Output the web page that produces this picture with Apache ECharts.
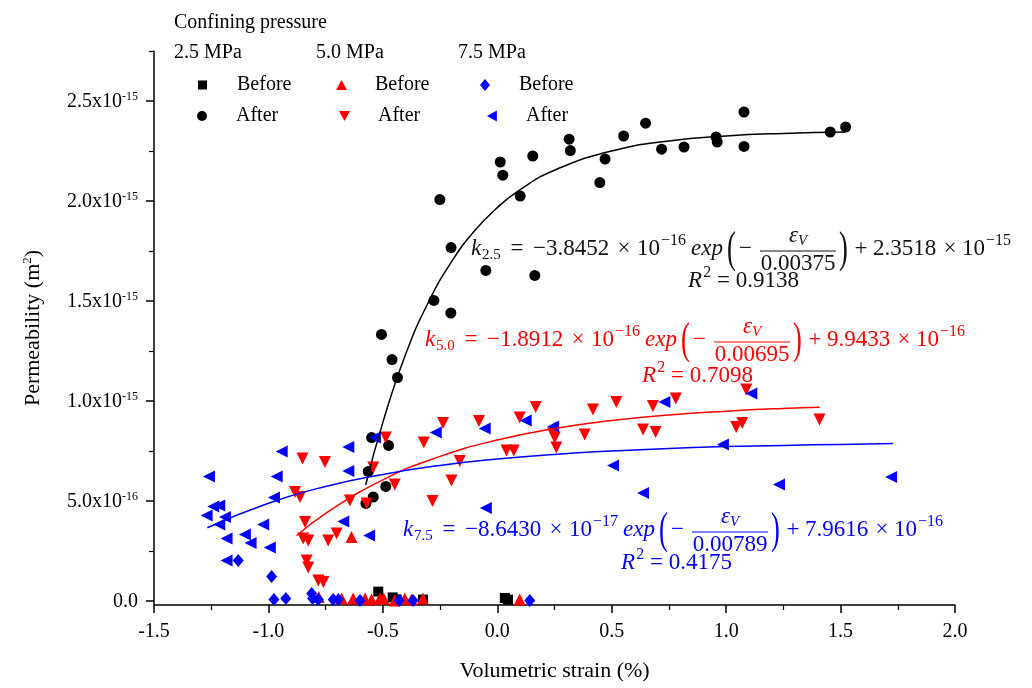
<!DOCTYPE html>
<html><head><meta charset="utf-8">
<script src="https://cdn.jsdelivr.net/npm/echarts@6/dist/echarts.min.js"></script>
<style>html,body{margin:0;padding:0;background:#fff}#c{width:1032px;height:688px}</style>
</head><body><div id="c"></div>
<script>
// ---------- data (x: volumetric strain %, y: permeability in 1e-15 m^2) ----------
const xTickValues = [-1.5, -1.0, -0.5, 0.0, 0.5, 1.0, 1.5, 2.0];
const yTickValues = [0, 0.5, 1.0, 1.5, 2.0, 2.5];
const yTickLabels = ['0.0', '5.0x10|-16', '1.0x10|-15', '1.5x10|-15', '2.0x10|-15', '2.5x10|-15'];
const yMinorTickValues = [0.25, 0.75, 1.25, 1.75, 2.25, 2.75];

const pressures = ['2.5 MPa', '5.0 MPa', '7.5 MPa'];

const before25 = [[-0.52,0.047],[-0.457,0.018],[-0.44,0.008],[-0.325,0.007],[0.033,0.015],[0.047,0.007]];
const after25 = [
 [-0.574,0.488],[-0.542,0.52],[-0.487,0.573],[-0.564,0.648],[-0.475,0.778],[-0.549,0.817],
 [-0.436,1.117],[-0.46,1.207],[-0.506,1.333],[-0.203,1.44],[-0.277,1.503],[-0.05,1.653],
 [0.164,1.628],[-0.202,1.767],[-0.251,2.007],[0.1,2.025],[0.024,2.129],[0.013,2.195],
 [0.155,2.225],[0.314,2.309],[0.319,2.252],[0.448,2.092],[0.471,2.21],[0.552,2.325],
 [0.648,2.389],[0.718,2.259],[0.816,2.27],[0.956,2.32],[0.961,2.295],[1.078,2.445],
 [1.078,2.273],[1.455,2.345],[1.522,2.37]];
const before50 = [[-0.78,0.02],[-0.68,0.012],[-0.63,0.012],[-0.578,0.012],[-0.549,0.007],[-0.513,0.012],
 [-0.496,0.012],[-0.448,0.003],[-0.404,0.012],[-0.375,0.007],[-0.325,0.012],[0.098,0.007],[-0.637,0.32]];
const after50 = [
 [-0.851,0.712],[-0.753,0.695],[-0.884,0.545],[-0.862,0.52],[-0.84,0.395],[-0.848,0.312],
 [-0.826,0.303],[-0.833,0.203],[-0.826,0.167],[-0.782,0.103],[-0.76,0.095],[-0.739,0.303],
 [-0.702,0.337],[-0.644,0.503],[-0.571,0.487],[-0.542,0.667],[-0.487,0.817],[-0.448,0.583],
 [-0.321,0.792],[-0.283,0.5],[-0.237,0.89],[-0.08,0.9],[-0.164,0.7],[-0.2,0.603],
 [0.098,0.917],[0.168,0.97],[0.04,0.753],[0.072,0.753],[0.244,0.837],[0.251,0.817],
 [0.258,0.767],[0.382,0.833],[0.418,0.957],[0.52,0.995],[0.637,0.857],[0.692,0.845],
 [0.68,0.975],[0.78,1.012],[1.088,1.057],[1.044,0.87],[1.07,0.89],[1.408,0.907]];
const before75 = [[-1.132,0.203],[-0.986,0.123],[-0.976,0.007],[-0.924,0.012],[-0.811,0.037],[-0.807,0.012],
 [-0.782,0.007],[-0.717,0.007],[-0.695,0.007],[-0.6,0.003],[-0.429,0.003],[-0.368,0.003],[0.142,0.003]];
const after75 = [
 [-1.26,0.623],[-0.942,0.748],[-0.964,0.623],[-0.651,0.77],[-0.651,0.65],[-0.535,0.817],
 [-0.269,0.842],[-0.976,0.517],[-1.27,0.428],[-1.241,0.473],[-1.215,0.478],[-1.19,0.42],
 [-1.215,0.383],[-1.023,0.383],[-1.183,0.312],[-1.103,0.333],[-1.078,0.29],[-0.994,0.267],
 [-0.673,0.398],[-0.56,0.328],[-1.183,0.203],[-0.055,0.862],[0.124,0.903],[0.244,0.873],
 [0.73,0.995],[1.11,1.037],[0.986,0.782],[0.506,0.678],[0.637,0.54],[1.231,0.583],
 [-0.05,0.465],[1.721,0.62]];

// fitted curves
const fit25 = [[-0.575,0.58],[-0.5,0.893],[-0.4,1.235],[-0.3,1.496],[-0.2,1.696],[-0.1,1.85],[0,1.967],
 [0.1,2.057],[0.25,2.154],[0.5,2.25],[0.75,2.30],[1.0,2.325],[1.25,2.338],[1.52,2.345]];
const fit50 = [[-0.877,0.326],[-0.75,0.438],[-0.5,0.606],[-0.25,0.723],[0,0.805],[0.25,0.862],
 [0.5,0.902],[0.75,0.930],[1.0,0.949],[1.25,0.963],[1.408,0.969]];
const fit75 = [[-1.267,0.366],[-1.0,0.489],[-0.75,0.573],[-0.5,0.633],[-0.25,0.678],[0,0.71],
 [0.25,0.733],[0.5,0.75],[0.75,0.763],[1.0,0.772],[1.25,0.778],[1.5,0.783],[1.729,0.787]];

// ---------- styling ----------
const FONT = '"Liberation Serif", serif';
const MATH = '"Liberation Serif", serif';
const BLACK = '#000000', RED = '#ff0000', BLUE = '#0000ff';

const chart = echarts.init(document.getElementById('c'), null, {renderer: 'canvas'});

const mctx = document.createElement('canvas').getContext('2d');
function measure(t, size, italic) {
  mctx.font = (italic ? 'italic ' : '') + size + 'px ' + MATH;
  return mctx.measureText(t).width;
}
const S = 23, SMALL = 15, SUP = 16, BIG = 44;
function txt(t, x, y, size, italic, color, extra) {
  return Object.assign({type: 'text', x, y, silent: true, z: 100,
    style: {text: t, fontSize: size, fontFamily: MATH, fontStyle: italic ? 'italic' : 'normal',
      fill: color, verticalAlign: 'middle', align: 'left'}}, extra || {});
}
// tokens positioned at offsets relative to equation start
function equation(sub, coef, exp1, denom, c2, exp2, x0, y0, color, els) {
  const at = (t, rel, size, italic, dy) => els.push(txt(t, x0 + rel, y0 + (dy || 0), size, italic, color));
  const ctr = (t, rel, size) => els.push(txt(t, x0 + rel - measure(t, size, false) / 2, y0, size, false, color));
  at('k', 0, S, true);
  at(sub, 11, SMALL, false, 6);
  ctr('=', 46, S);
  at('−' + coef, 62, S, false);
  ctr('×', 153, S);
  at('10', 166, S, false);
  at('−' + exp1, 190, SUP, false, -8);
  at('exp', 220, S, true);
  els.push(txt('(', x0 + 256, y0 + 1, BIG, false, color, {scaleX: 0.6}));
  at('−', 268, S, false);
  // fraction
  const fx = x0 + 289, fw = 76;
  const numW = measure('ε', S, true) + measure('V', SMALL, true);
  const nx = fx + (fw - numW) / 2;
  els.push(txt('ε', nx, y0 - 13, S, true, color));
  els.push(txt('V', nx + measure('ε', S, true), y0 - 8, SMALL, true, color));
  const denW = measure(denom, S, false);
  els.push(txt(denom, fx + (fw - denW) / 2, y0 + 15, S, false, color));
  els.push({type: 'line', silent: true, z: 100, shape: {x1: fx, y1: y0 + 2, x2: fx + fw, y2: y0 + 2},
    style: {stroke: color, lineWidth: 1}});
  els.push(txt(')', x0 + 368, y0 + 1, BIG, false, color, {scaleX: 0.6}));
  ctr('+', 390, S);
  at(c2, 402, S, false);
  ctr('×', 479, S);
  at('10', 491, S, false);
  at('−' + exp2, 515, SUP, false, -8);
}
function rsq(val, cx, y0, color, els) {
  const w = measure('R', S, true) + measure('2', SUP, false) + measure(' = ' + val, S, false);
  let x = cx - w / 2;
  els.push(txt('R', x, y0, S, true, color)); x += measure('R', S, true) + 1;
  els.push(txt('2', x, y0 - 8, SUP, false, color)); x += measure('2', SUP, false);
  els.push(txt(' = ' + val, x, y0, S, false, color));
}

const graphics = [];
equation('2.5', '3.8452', '16', '0.00375', '2.3518', '15', 471, 249, '#111111', graphics);
rsq('0.9138', 743, 281, '#111111', graphics);
equation('5.0', '1.8912', '16', '0.00695', '9.9433', '16', 425, 340, RED, graphics);
rsq('0.7098', 697, 376, RED, graphics);
equation('7.5', '8.6430', '17', '0.00789', '7.9616', '16', 403, 530, BLUE, graphics);
rsq('0.4175', 676, 563, BLUE, graphics);

graphics.push({type: 'text', x: 174, y: 23, silent: true,
  style: {text: 'Confining pressure', fontSize: 20, fontFamily: FONT, fill: '#000', verticalAlign: 'middle'}});
const mpaX = [174, 316, 458];
pressures.forEach((p, i) => graphics.push({type: 'text', x: mpaX[i], y: 53, silent: true,
  style: {text: p, fontSize: 20, fontFamily: FONT, fill: '#000', verticalAlign: 'middle'}}));

function scatter(name, data, symbol, size, rotate, color, z) {
  return {name, type: 'scatter', data, symbol, symbolSize: size, symbolRotate: rotate,
    itemStyle: {color, opacity: 1}, z, emphasis: {disabled: true}};
}
function fitLine(name, data, color) {
  return {name, type: 'line', data, smooth: true, showSymbol: false, symbol: 'none', z: 20,
    lineStyle: {color, width: 1.5}, emphasis: {disabled: true}, tooltip: {show: false}};
}

const ICONS = {
  rect: 'rect', circle: 'circle', up: 'path://M5,0L10,9L0,9Z', down: 'path://M0,0L10,0L5,9Z',
  diamond: 'path://M5,0L10,6L5,12L0,6Z', left: 'path://M0,5L9,0L9,10Z'
};
function legendItem(name, icon, w, h, left, top) {
  return {data: [{name, icon: ICONS[icon]}], left, top, orient: 'vertical', padding: 0,
    itemWidth: w, itemHeight: h, formatter: n => n.split(' ')[1], selectedMode: false,
    textStyle: {fontFamily: FONT, fontSize: 20, color: '#000', lineHeight: 20, padding: [0, 0, 0, 34 - w]}};
}

const labelRich = {
  a: {fontFamily: FONT, fontSize: 20, color: '#000', verticalAlign: 'bottom', lineHeight: 22},
  b: {fontFamily: FONT, fontSize: 12, color: '#000', verticalAlign: 'bottom', lineHeight: 22, padding: [0, 0, 9, 0]}
};

const option = {
  animation: false,
  backgroundColor: '#ffffff',
  grid: {left: 154, right: 77, top: 51, bottom: 83, containLabel: false, outerBoundsMode: 'none'},
  xAxis: {
    type: 'value', min: -1.5, max: 2.0, interval: 0.5,
    axisLine: {onZero: false, lineStyle: {color: '#000', width: 1.5}},
    axisTick: {length: 8, lineStyle: {color: '#000', width: 1.5}},
    minorTick: {show: true, splitNumber: 2, length: 5, lineStyle: {color: '#000', width: 1.2}},
    splitLine: {show: false},
    axisLabel: {formatter: v => v.toFixed(1), margin: 17, fontFamily: FONT, fontSize: 20, color: '#000'},
    name: 'Volumetric strain (%)', nameLocation: 'middle', nameGap: 55,
    nameTextStyle: {fontFamily: FONT, fontSize: 22, color: '#000'}
  },
  yAxis: [{
    type: 'value', min: -0.02, max: 2.75,
    axisLine: {onZero: false, lineStyle: {color: '#000', width: 1.5}},
    axisTick: {customValues: yTickValues, length: 8, lineStyle: {color: '#000', width: 1.5}},
    splitLine: {show: false},
    axisLabel: {customValues: yTickValues, margin: 16,
      formatter: v => {
        const idx = yTickValues.findIndex(t => Math.abs(t - v) < 1e-6);
        const s = yTickLabels[idx];
        if (!s) return '';
        const parts = s.split('|');
        return parts.length > 1 ? '{a|' + parts[0] + '}{b|' + parts[1] + '}' : '{a|' + parts[0] + '}';
      },
      rich: labelRich},
    name: '{a|Permeability (m}{b|2}{a|)}', nameLocation: 'middle', nameGap: 110, nameRotate: 90,
    nameTextStyle: {rich: {
      a: {fontFamily: FONT, fontSize: 22, color: '#000', verticalAlign: 'bottom', lineHeight: 24},
      b: {fontFamily: FONT, fontSize: 13, color: '#000', verticalAlign: 'bottom', lineHeight: 24, padding: [0, 0, 10, 0]}}}
  }, {
    type: 'value', min: -0.02, max: 2.75, position: 'left',
    axisLine: {show: false, onZero: false},
    axisTick: {customValues: yMinorTickValues, length: 5, lineStyle: {color: '#000', width: 1.2}},
    axisLabel: {show: false}, splitLine: {show: false}
  }],
  legend: [
    legendItem('2.5 Before', 'rect', 9, 9, 198, 75), legendItem('2.5 After', 'circle', 10, 10, 197, 106),
    legendItem('5.0 Before', 'up', 11, 10, 336, 75), legendItem('5.0 After', 'down', 11, 10, 339, 106),
    legendItem('7.5 Before', 'diamond', 10, 12, 480, 75), legendItem('7.5 After', 'left', 10, 11, 487, 106)
  ],
  series: [
    scatter('2.5 Before', before25, 'rect', 10, 0, BLACK, 3),
    scatter('2.5 After', after25, 'circle', 11, 0, BLACK, 3),
    scatter('5.0 Before', before50, 'triangle', 12, 0, RED, 4),
    scatter('5.0 After', after50, 'triangle', 12, 180, RED, 4),
    scatter('7.5 Before', before75, 'diamond', [11, 13], 0, BLUE, 5),
    scatter('7.5 After', after75, 'triangle', 12, 90, BLUE, 5),
    fitLine('fit 2.5', fit25, BLACK),
    fitLine('fit 5.0', fit50, RED),
    fitLine('fit 7.5', fit75, BLUE)
  ],
  graphic: graphics
};
chart.setOption(option);
</script></body></html>
